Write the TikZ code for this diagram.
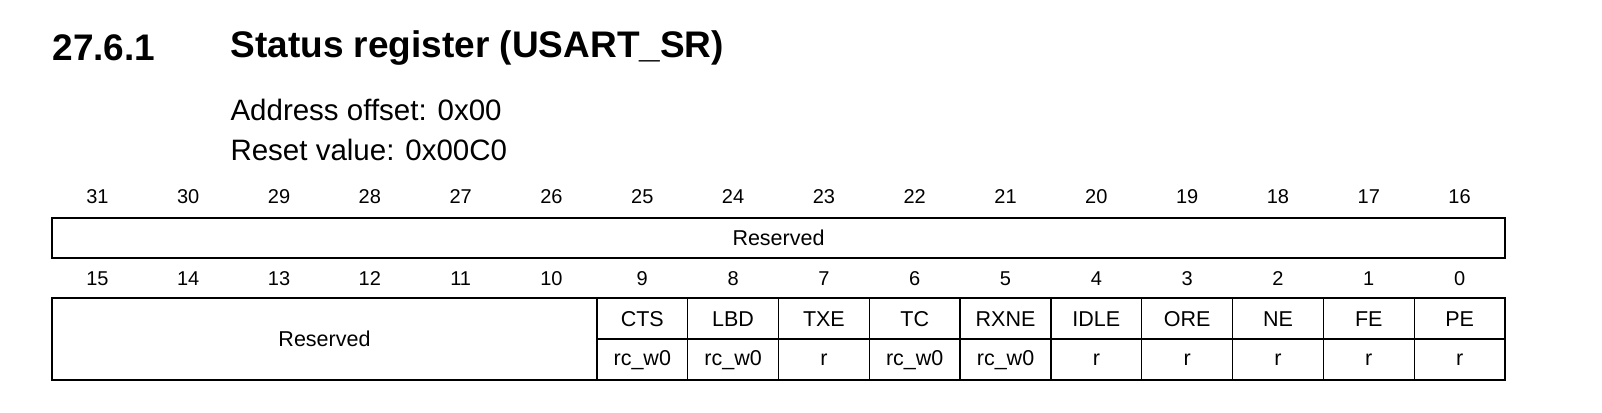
\documentclass[tikz,border=0pt]{standalone}
\usepackage{fontspec}
\setmainfont{Liberation Sans}
\begin{document}
\begin{tikzpicture}[x=1pt,y=-1pt,
  bitnum/.style={font=\fontsize{20}{22}\selectfont,anchor=center},
  cell/.style={font=\fontsize{21.5}{23}\selectfont,anchor=center},
  frame/.style={draw=black,line width=1.4pt}]
\useasboundingbox (0,0) rectangle (1602,412);
\node[anchor=west,font=\bfseries\fontsize{37}{40}\selectfont] (num) at (49,48) {27.6.1};
\node[anchor=west,font=\bfseries\fontsize{37}{40}\selectfont] (title) at (227,48) {Status register (USART\_SR)};
\node[anchor=west,font=\fontsize{29.5}{32}\selectfont] (addr) at (227,110) {Address offset: 0x00};
\node[anchor=west,font=\fontsize{29.5}{32}\selectfont] (rst) at (227,150) {Reset value: 0x00C0};
\def\cw{90.8125}
\foreach \i in {0,...,15}{
  \pgfmathtruncatemacro\hb{31-\i}
  \pgfmathtruncatemacro\lb{15-\i}
  \node[bitnum] (h\i) at ({52+(\i+0.5)*\cw},197) {\hb};
  \node[bitnum] (l\i) at ({52+(\i+0.5)*\cw},279) {\lb};
}
\draw[frame] (52,218) rectangle (1505,258);
\node[cell] (res1) at (778.5,238) {Reserved};
\draw[frame] (52,298) rectangle (1505,380);
\draw[frame] (597,339) -- (1505,339);
\foreach \i in {6,...,15}{ \draw[frame] ({52+\i*\cw},298) -- ({52+\i*\cw},380); }
\node[cell] (res2) at (324.5,339) {Reserved};
\foreach \n/\a/\i in {CTS/rc\_w0/6,LBD/rc\_w0/7,TXE/r/8,TC/rc\_w0/9,RXNE/rc\_w0/10,IDLE/r/11,ORE/r/12,NE/r/13,FE/r/14,PE/r/15}{
  \node[cell] (n\i) at ({52+(\i+0.5)*\cw},319) {\n};
  \node[cell] (a\i) at ({52+(\i+0.5)*\cw},360) {\a};
}
\end{tikzpicture}
\end{document}
